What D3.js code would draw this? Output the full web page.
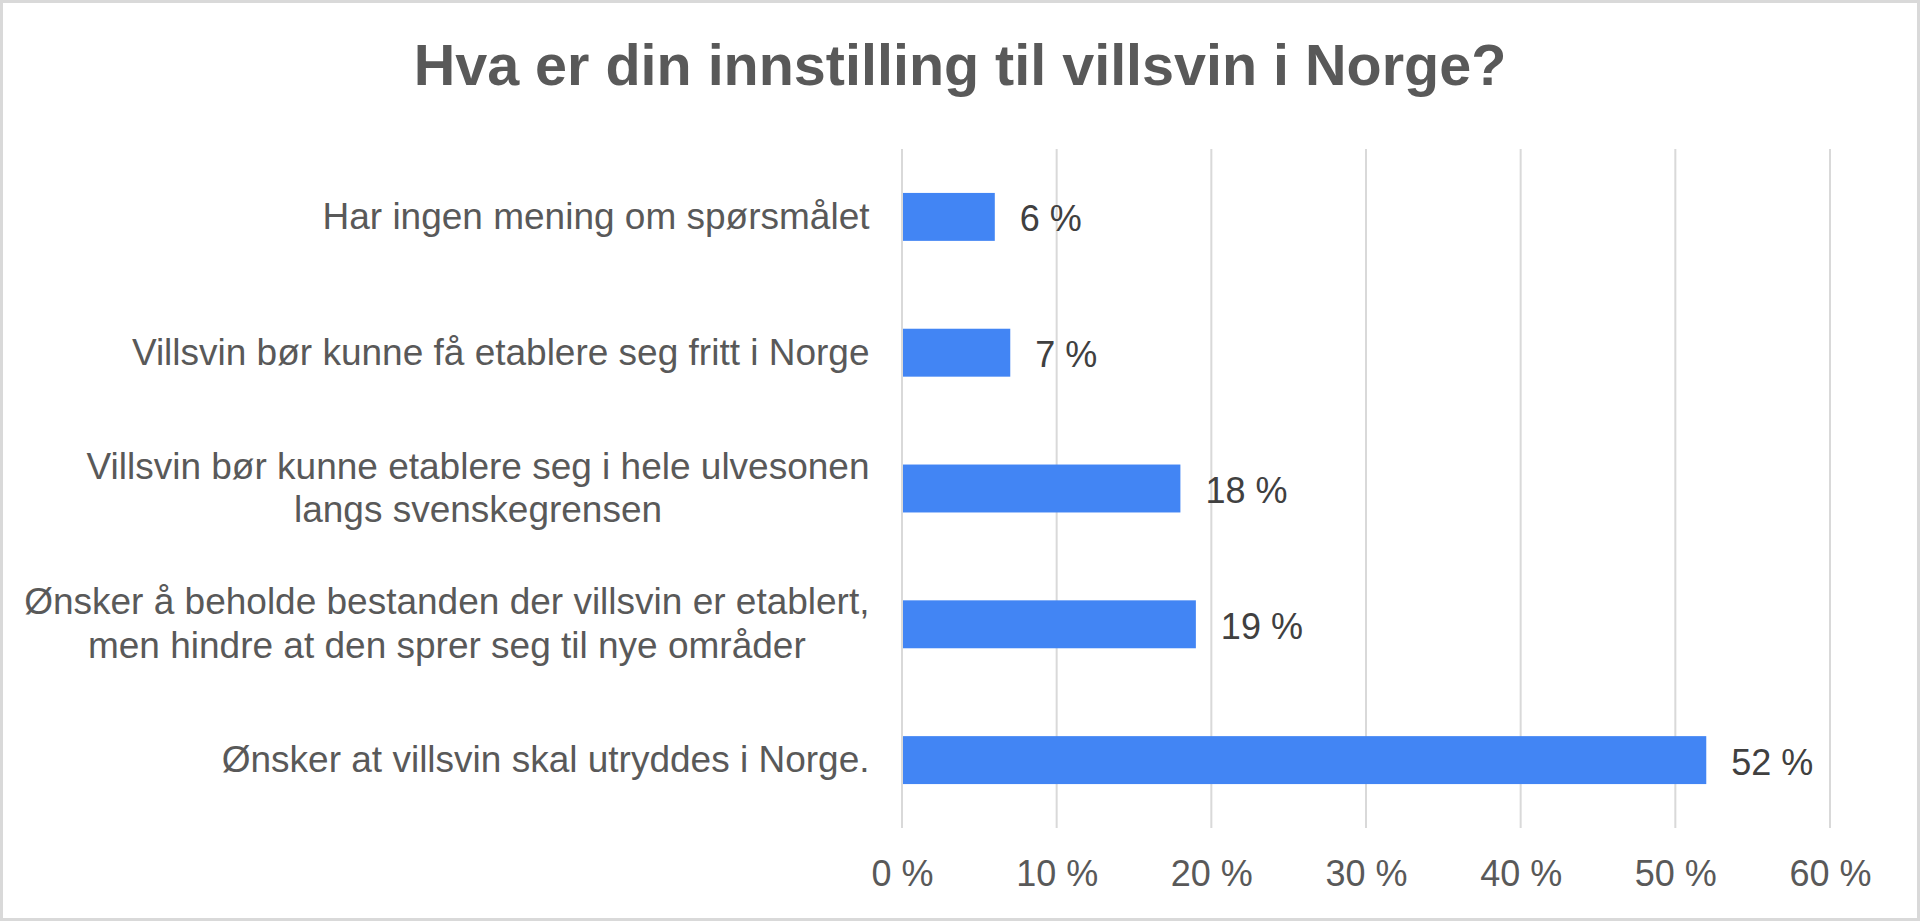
<!DOCTYPE html>
<html>
<head>
<meta charset="utf-8">
<script src="https://cdn.jsdelivr.net/npm/d3@7"></script>
<style>
  body { margin: 0; overflow: hidden; background: #fff; }
  svg { display: block; font-family: "Liberation Sans", Arial, sans-serif; }
</style>
</head>
<body>
<div id="chart"></div>
<script>
var title = "Hva er din innstilling til villsvin i Norge?";

var categories = [
    "Har ingen mening om spørsmålet",
    "Villsvin bør kunne få etablere seg fritt i Norge",
    "Villsvin bør kunne etablere seg i hele ulvesonen\nlangs svenskegrensen",
    "Ønsker å beholde bestanden der villsvin er etablert,\nmen hindre at den sprer seg til nye områder",
    "Ønsker at villsvin skal utryddes i Norge."
];

var values = [6, 7, 18, 19, 52];

var xTicks = [0, 10, 20, 30, 40, 50, 60];

(function (selector) {
    var W = 1920, H = 921;
    var svg = d3.select(selector).append("svg")
        .attr("width", W)
        .attr("height", H);

    // outer frame
    svg.append("rect")
        .attr("x", 1.5).attr("y", 1.5)
        .attr("width", W - 3).attr("height", H - 3)
        .attr("fill", "#fff")
        .attr("stroke", "#d9d9d9")
        .attr("stroke-width", 3);

    var margin = { top: 149, left: 902, right: 90, bottom: 93 };

    var x = d3.scaleLinear()
        .domain([0, 60])
        .range([margin.left, 1830]);

    var y = d3.scaleBand()
        .domain(categories)
        .range([margin.top, H - margin.bottom])
        .paddingInner(0.647)
        .paddingOuter(0.3235);

    svg.append("text")
        .attr("x", 960)
        .attr("y", 85)
        .attr("text-anchor", "middle")
        .attr("font-size", 57.5)
        .attr("font-weight", "bold")
        .attr("fill", "#595959")
        .text(title);

    // gridlines
    svg.append("g")
        .selectAll("line")
        .data(xTicks)
        .enter().append("line")
        .attr("x1", function (d) { return x(d); })
        .attr("x2", function (d) { return x(d); })
        .attr("y1", margin.top)
        .attr("y2", H - margin.bottom)
        .attr("stroke", "#d9d9d9")
        .attr("stroke-width", 2);

    // x axis labels
    var axis = svg.append("g")
        .attr("transform", "translate(0," + (H - margin.bottom) + ")")
        .call(d3.axisBottom(x)
            .tickValues(xTicks)
            .tickSize(0)
            .tickPadding(32)
            .tickFormat(function (d) { return d + " %"; }));
    axis.select(".domain").remove();
    axis.selectAll("text")
        .attr("font-family", "Liberation Sans, Arial, sans-serif")
        .attr("font-size", 36)
        .attr("fill", "#595959");

    // bars
    svg.append("g")
        .selectAll("rect")
        .data(values)
        .enter().append("rect")
        .attr("x", x(0) + 1)
        .attr("y", function (d, i) { return y(categories[i]); })
        .attr("width", function (d) { return x(d) - x(0) - 1; })
        .attr("height", y.bandwidth())
        .attr("fill", "#4285f4");

    // value labels
    svg.append("g")
        .selectAll("text")
        .data(values)
        .enter().append("text")
        .attr("x", function (d) { return x(d) + 25; })
        .attr("y", function (d, i) { return y(categories[i]) + y.bandwidth() / 2; })
        .attr("dy", "0.4em")
        .attr("font-size", 36)
        .attr("fill", "#404040")
        .text(function (d) { return d + " %"; });

    // category labels, multi-line blocks centred, block right-aligned
    var lineH = 43.5, labelRight = 869.5;
    var labels = svg.append("g")
        .selectAll("text")
        .data(categories)
        .enter().append("text")
        .attr("font-size", 37)
        .attr("fill", "#595959")
        .attr("text-anchor", "middle");

    labels.each(function (d) {
        var t = d3.select(this);
        var lines = d.split("\n");
        var cy = y(d) + y.bandwidth() / 2;
        lines.forEach(function (l, j) {
            t.append("tspan")
                .attr("y", cy - (lines.length - 1) / 2 * lineH + j * lineH)
                .attr("dy", "0.32em")
                .text(l);
        });
        var maxW = 0;
        t.selectAll("tspan").each(function () {
            maxW = Math.max(maxW, this.getComputedTextLength());
        });
        t.selectAll("tspan").attr("x", labelRight - maxW / 2);
    });
})("#chart");
</script>
</body>
</html>
